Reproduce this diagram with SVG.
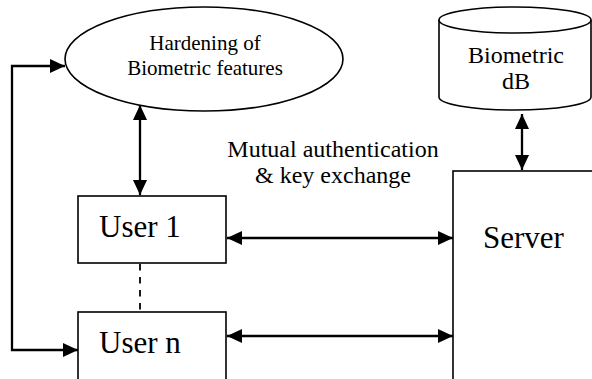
<svg xmlns="http://www.w3.org/2000/svg" width="592" height="379" viewBox="0 0 592 379">
  <style>
    .shape { fill: #ffffff; stroke: #000000; stroke-width: 1.6; }
    .link { fill: none; stroke: #000000; stroke-width: 2.3; }
    .dash { fill: none; stroke: #000000; stroke-width: 1.8; stroke-dasharray: 6.5 6.5; }
    text { font-family: "Liberation Serif", "Times New Roman", serif; fill: #000000; }
    .mid { text-anchor: middle; }
  </style>
  <defs>
    <marker id="head" viewBox="0 0 15 14" refX="15" refY="7" markerWidth="15" markerHeight="14" markerUnits="userSpaceOnUse" orient="auto-start-reverse">
      <path d="M0,0 L15,7 L0,14 z" fill="#000000"/>
    </marker>
  </defs>
  <rect width="592" height="379" fill="#ffffff"/>

  <g id="hardening">
    <ellipse class="shape" cx="204" cy="59" rx="139" ry="52"/>
    <text class="mid" x="205" y="50" font-size="21">Hardening of</text>
    <text class="mid" x="205" y="75" font-size="21">Biometric features</text>
  </g>

  <g id="biometric-db">
    <path class="shape" d="M439,20 V97 A76,13 0 0 0 591,97 V20"/>
    <ellipse class="shape" cx="515" cy="20" rx="76" ry="13"/>
    <text class="mid" x="516" y="63" font-size="24">Biometric</text>
    <text class="mid" x="516" y="89" font-size="24">dB</text>
  </g>

  <g id="user-1">
    <rect class="shape" x="78" y="196" width="148" height="67"/>
    <text x="99" y="237" font-size="31">User 1</text>
  </g>

  <g id="user-n">
    <rect class="shape" x="78" y="312" width="148" height="80"/>
    <text x="99" y="353" font-size="31">User n</text>
  </g>

  <g id="server">
    <rect class="shape" x="453" y="171" width="160" height="230"/>
    <text x="483" y="248" font-size="31">Server</text>
  </g>

  <g id="exchange-label">
    <text class="mid" x="333" y="157" font-size="24">Mutual authentication</text>
    <text class="mid" x="333" y="183" font-size="24">&amp; key exchange</text>
  </g>

  <g id="connectors">
    <path class="link" d="M65,66 H12 V350 H78" marker-start="url(#head)" marker-end="url(#head)"/>
    <path class="link" d="M140,105 V195" marker-start="url(#head)" marker-end="url(#head)"/>
    <path class="link" d="M522,114 V170" marker-start="url(#head)" marker-end="url(#head)"/>
    <path class="link" d="M227,238 H453" marker-start="url(#head)" marker-end="url(#head)"/>
    <path class="link" d="M227,336 H453" marker-start="url(#head)" marker-end="url(#head)"/>
    <path class="dash" d="M140,264 V311"/>
  </g>
</svg>
